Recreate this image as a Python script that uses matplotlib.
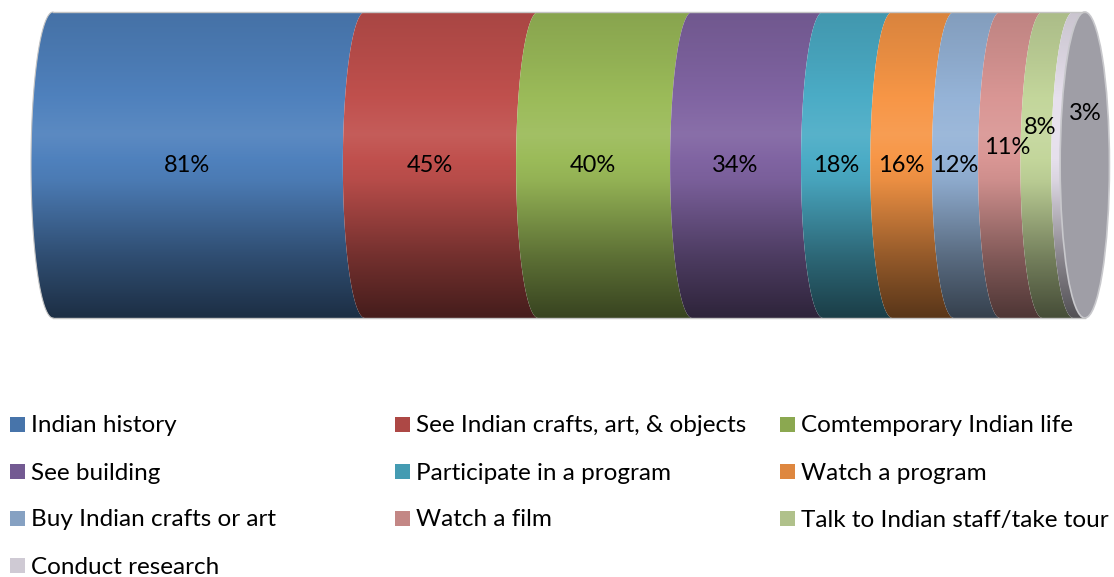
import numpy as np
import matplotlib
matplotlib.use("Agg")
import matplotlib.pyplot as plt
from matplotlib.patches import Polygon, Ellipse, Rectangle
from matplotlib.colors import to_rgb

plt.rcParams['font.family'] = ['Lato', 'DejaVu Sans']

categories = ["Indian history", "See Indian crafts, art, & objects", "Comtemporary Indian life",
              "See building", "Participate in a program", "Watch a program",
              "Buy Indian crafts or art", "Watch a film", "Talk to Indian staff/take tour",
              "Conduct research"]
values = [81, 45, 40, 34, 18, 16, 12, 11, 8, 3]
colors = ["#4F81BD", "#C0504D", "#9BBB59", "#8064A2", "#4BACC6",
          "#F79646", "#95B3D7", "#D99694", "#C3D69B", "#E6E0EC"]
# label nudges (px) where the thin slices crowd together
label_nudge = {7: (8, -17), 8: (4, -37), 9: (28, -52)}

W, H, DPI = 1114, 577, 100
fig = plt.figure(figsize=(W / DPI, H / DPI), dpi=DPI)
ax = fig.add_axes([0, 0, 1, 1])
ax.axis("off")

# pixel geometry of the cylinder
x0_px, px_per_val = 53, 3.85
top_px, bot_px = 12, 318
cy_px = (top_px + bot_px) / 2
py_per_unit = (bot_px - top_px) / 2
rx = 22 / px_per_val  # elliptical half-width of a section, in value units

ax.set_xlim(-x0_px / px_per_val, (W - x0_px) / px_per_val)
ax.set_ylim(-(H - cy_px) / py_per_unit, cy_px / py_per_unit)


def shade_column(color, n=200):
    # vertical lighting profile: bright band just above the middle, dark underside
    t = np.linspace(0, 1, n)
    f = np.interp(t, [0, 0.15, 0.4, 0.55, 0.8, 1.0], [0.88, 0.94, 1.06, 0.95, 0.6, 0.36])
    c = np.array(to_rgb(color))
    out = np.empty((n, 1, 3))
    for i, fi in enumerate(f):
        if fi <= 1:
            out[i, 0] = c * fi
        else:
            out[i, 0] = c + (1 - c) * (fi - 1) * 1.2
    return np.clip(out, 0, 1)


def arc(b, reverse=False):
    th = np.linspace(0, np.pi, 80)
    pts = np.column_stack([b - rx * np.sin(th), np.cos(th)])
    return pts[::-1] if reverse else pts


starts = np.concatenate([[0], np.cumsum(values)[:-1]])
ends = np.cumsum(values)
total = ends[-1]

for i, (s, e, col) in enumerate(zip(starts, ends, colors)):
    verts = np.vstack([arc(s), arc(e, reverse=True)])
    poly = Polygon(verts, closed=True, facecolor="none", edgecolor="none")
    ax.add_patch(poly)
    im = ax.imshow(shade_column(col), extent=[s - rx, e, -1, 1], aspect="auto",
                   interpolation="bilinear", zorder=1)
    im.set_clip_path(poly)

# end cap
cap = Ellipse((total, 0), 2 * rx * 1.12, 2, facecolor="#9f9ea6", edgecolor="#c8c8cc",
              linewidth=1.2, zorder=2)
ax.add_patch(cap)

# outline along top and bottom
ax.plot([0, total], [1, 1], color="#c4c4c4", lw=1, zorder=3)
ax.plot([0, total], [-1, -1], color="#c4c4c4", lw=1, zorder=3)
left = arc(0)
ax.plot(left[:, 0], left[:, 1], color="#c4c4c4", lw=0.8, zorder=3)

for i, (s, e, v) in enumerate(zip(starts, ends, values)):
    dx, dy = label_nudge.get(i, (0, 0))
    ax.annotate(f"{v}%", ((s + e) / 2 - rx, 0), xytext=(dx * 0.72, -dy * 0.72),
                textcoords="offset points", ha="center", va="center",
                fontsize=17, color="black", zorder=4)

# legend laid out row by row, three columns
col_x = [10, 395, 780]
row_y = [424, 471, 518, 565]
sw = 15
for i, (name, col) in enumerate(zip(categories, colors)):
    r, c = divmod(i, 3)
    xp, yp = col_x[c], row_y[r]
    swatch = np.array(to_rgb(col)) * 0.9
    fig.patches.append(Rectangle((xp / W, 1 - (yp + sw / 2) / H), sw / W, sw / H,
                                 transform=fig.transFigure, facecolor=swatch, edgecolor="none"))
    fig.text((xp + 21) / W, 1 - (yp + 2) / H, name, ha="left", va="center", fontsize=17.5)

fig.savefig("out.png", dpi=DPI)
